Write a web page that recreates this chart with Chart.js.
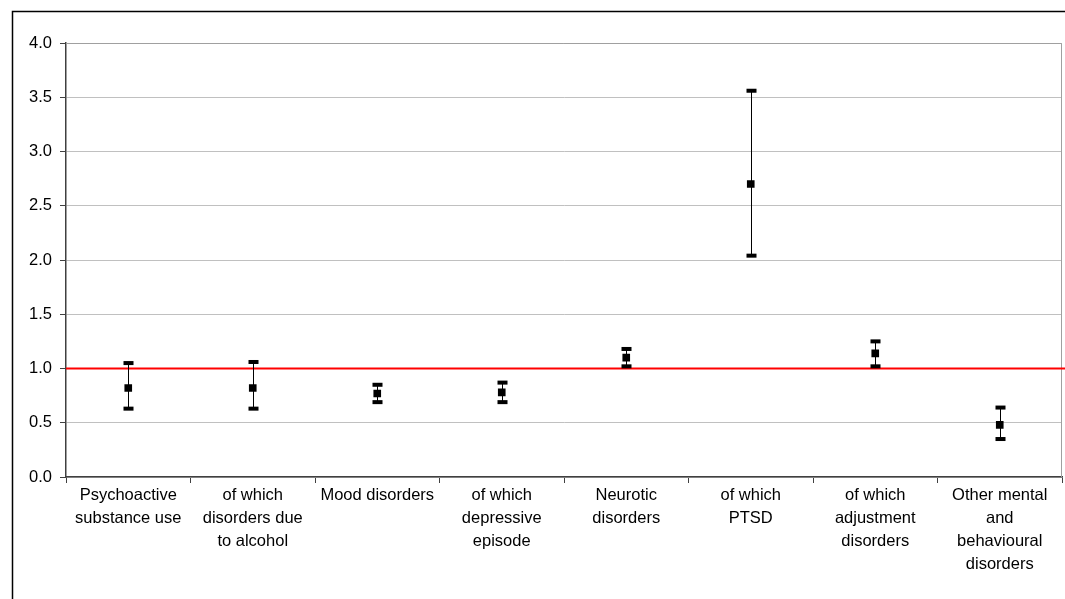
<!DOCTYPE html>
<html>
<head>
<meta charset="utf-8">
<script src="https://cdn.jsdelivr.net/npm/chart.js@4"></script>
<style>
  html, body { margin: 0; padding: 0; background: #fff; }
  #wrap { width: 1065px; height: 599px; position: relative; }
</style>
</head>
<body>
<div id="wrap"><canvas id="c" width="1065" height="599"></canvas></div>
<script>
// Diagnosis groups (multi-line axis labels)
const categories = [
  ["Psychoactive", "substance use"],
  ["of which", "disorders due", "to alcohol"],
  ["Mood disorders"],
  ["of which", "depressive", "episode"],
  ["Neurotic", "disorders"],
  ["of which", "PTSD"],
  ["of which", "adjustment", "disorders"],
  ["Other mental", "and", "behavioural", "disorders"]
];

// Point estimates with lower / upper confidence limits
const estimates   = [0.82, 0.82, 0.77, 0.78, 1.10, 2.70, 1.14, 0.48];
const lowerBounds = [0.63, 0.63, 0.69, 0.69, 1.02, 2.04, 1.02, 0.35];
const upperBounds = [1.05, 1.06, 0.85, 0.87, 1.18, 3.56, 1.25, 0.64];

// Value axis
const yMin = 0;
const yMax = 4;
const yStep = 0.5;

// Reference ratio line
const referenceValue = 1.0;

const FONT = "'Liberation Sans', Arial, sans-serif";

// Frame, reference line and confidence intervals
const decorations = {
  id: 'decorations',
  beforeDraw(chart) {
    const ctx = chart.ctx;
    ctx.save();
    ctx.fillStyle = '#ffffff';
    ctx.fillRect(0, 0, chart.width, chart.height);
    ctx.restore();
  },
  beforeDatasetsDraw(chart) {
    const ctx = chart.ctx;
    const area = chart.chartArea;
    const x = chart.scales.x;
    const y = chart.scales.y;
    ctx.save();

    // plot area border (top and right)
    ctx.strokeStyle = '#a0a0a0';
    ctx.lineWidth = 1;
    ctx.beginPath();
    ctx.moveTo(area.left, area.top + 0.5);
    ctx.lineTo(area.right - 0.5, area.top + 0.5);
    ctx.lineTo(area.right - 0.5, area.bottom);
    ctx.stroke();

    // reference line
    const yr = y.getPixelForValue(referenceValue);
    ctx.strokeStyle = '#ff0000';
    ctx.lineWidth = 2;
    ctx.beginPath();
    ctx.moveTo(area.left, yr);
    ctx.lineTo(chart.width, yr);
    ctx.stroke();

    // confidence intervals
    ctx.strokeStyle = '#000000';
    ctx.fillStyle = '#000000';
    ctx.lineWidth = 1;
    for (let i = 0; i < estimates.length; i++) {
      const px = Math.round(x.getPixelForValue(i)) + 0.5;
      const yl = y.getPixelForValue(lowerBounds[i]);
      const yu = y.getPixelForValue(upperBounds[i]);
      ctx.beginPath();
      ctx.moveTo(px, yl);
      ctx.lineTo(px, yu);
      ctx.stroke();
      ctx.fillRect(px - 5, yu - 2, 10, 4);
      ctx.fillRect(px - 5, yl - 2, 10, 4);
    }
    ctx.restore();
  },
  afterDraw(chart) {
    const ctx = chart.ctx;
    ctx.save();
    // outer chart frame
    ctx.strokeStyle = '#000000';
    ctx.lineWidth = 1.5;
    ctx.beginPath();
    ctx.moveTo(12.5, chart.height);
    ctx.lineTo(12.5, 11.5);
    ctx.lineTo(chart.width, 11.5);
    ctx.stroke();
    ctx.restore();
  }
};

new Chart(document.getElementById('c'), {
  type: 'line',
  data: {
    labels: categories,
    datasets: [{
      data: estimates,
      showLine: false,
      pointStyle: 'rect',
      pointRadius: 5.4,
      pointHoverRadius: 5.4,
      pointBackgroundColor: '#000000',
      pointBorderWidth: 0,
      borderColor: '#000000'
    }]
  },
  options: {
    responsive: false,
    animation: false,
    devicePixelRatio: 1,
    layout: { autoPadding: false, padding: { left: 0, top: 43, right: 3, bottom: 0 } },
    plugins: {
      legend: { display: false },
      tooltip: { enabled: false },
      title: { display: false }
    },
    scales: {
      x: {
        type: 'category',
        offset: true,
        afterFit(scale) {
          scale.height = 122;
          scale.paddingLeft = 0;
          scale.paddingRight = 0;
        },
        grid: {
          offset: true,
          drawOnChartArea: false,
          drawTicks: true,
          tickLength: 6,
          tickColor: '#404040',
          lineWidth: 1
        },
        border: { color: '#404040', width: 1.5 },
        ticks: {
          autoSkip: false,
          maxRotation: 0,
          minRotation: 0,
          padding: 1,
          color: '#000000',
          font: { family: FONT, size: 16.5, lineHeight: '23px' }
        }
      },
      y: {
        min: yMin,
        max: yMax,
        afterFit(scale) { scale.width = 66; },
        grid: {
          color: '#c0c0c0',
          lineWidth: 1,
          tickLength: 6,
          tickColor: '#404040'
        },
        border: { color: '#404040', width: 1.5 },
        ticks: {
          stepSize: yStep,
          padding: 8,
          color: '#000000',
          font: { family: FONT, size: 16.5 },
          callback: (v) => Number(v).toFixed(1)
        }
      }
    }
  },
  plugins: [decorations]
});
</script>
</body>
</html>
